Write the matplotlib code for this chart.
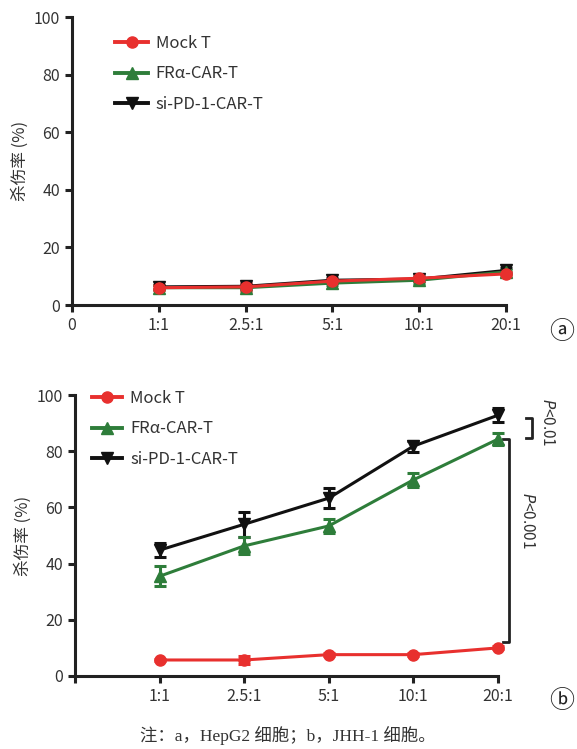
import numpy as np
import matplotlib.pyplot as plt
from matplotlib.lines import Line2D

plt.rcParams['font.family'] = ['Noto Sans CJK SC', 'DejaVu Sans']

# data
ratios = ["1:1", "2.5:1", "5:1", "10:1", "20:1"]
series = ["Mock T", "FRα-CAR-T", "si-PD-1-CAR-T"]

# (a) HepG2
a_mock = [6.0, 6.3, 8.3, 9.3, 10.8]
a_mock_err = [0.8, 1.5, 0.8, 0.8, 0.8]
a_fra = [6.0, 6.0, 7.6, 8.6, 11.5]
a_fra_err = [0.8, 0.8, 0.8, 0.8, 0.8]
a_si = [6.3, 6.5, 8.6, 9.0, 12.0]
a_si_err = [0.8, 0.8, 0.8, 0.8, 1.0]

# (b) JHH-1
b_mock = [5.7, 5.7, 7.6, 7.6, 10.0]
b_mock_err = [0.5, 1.5, 0.5, 0.5, 0.5]
b_fra = [35.5, 46.3, 53.4, 69.8, 84.3]
b_fra_err = [3.5, 3.0, 2.5, 2.5, 2.0]
b_si = [44.8, 54.0, 63.3, 81.8, 92.8]
b_si_err = [2.5, 4.5, 3.5, 2.0, 2.5]

colors = {"Mock T": "#e8302e", "FRα-CAR-T": "#2e7d3a", "si-PD-1-CAR-T": "#111111"}
markers = {"Mock T": "o", "FRα-CAR-T": "^", "si-PD-1-CAR-T": "v"}

W, H = 577, 749
fig = plt.figure(figsize=(W / 100, H / 100), dpi=100)

ax_a = fig.add_axes([72 / W, 1 - 305 / H, (506 - 72) / W, (305 - 17) / H])
ax_b = fig.add_axes([75 / W, 1 - 676 / H, (498 - 75) / W, (676 - 395) / H])

x = np.arange(1, len(ratios) + 1)


def draw(ax, data, order):
    for name in order:
        y, err = data[name]
        ax.errorbar(x, y, yerr=err, color=colors[name], marker=markers[name],
                    markersize=8, linewidth=2.2, elinewidth=2.2, capsize=4,
                    capthick=2.2, clip_on=False)
    ax.set_xlim(0, 5)
    ax.set_ylim(0, 100)
    ax.set_yticks([0, 20, 40, 60, 80, 100])
    for s in ["top", "right"]:
        ax.spines[s].set_visible(False)
    for s in ["left", "bottom"]:
        ax.spines[s].set_linewidth(2.2)
        ax.spines[s].set_color("#222222")
    ax.tick_params(width=2.2, length=5, color="#222222", labelsize=11.5,
                   labelcolor="#333333")
    ax.set_ylabel("杀伤率 (%)", fontsize=12, color="#333333", labelpad=4)


data_a = {"Mock T": (a_mock, a_mock_err), "FRα-CAR-T": (a_fra, a_fra_err),
          "si-PD-1-CAR-T": (a_si, a_si_err)}
data_b = {"Mock T": (b_mock, b_mock_err), "FRα-CAR-T": (b_fra, b_fra_err),
          "si-PD-1-CAR-T": (b_si, b_si_err)}

draw(ax_a, data_a, ["si-PD-1-CAR-T", "FRα-CAR-T", "Mock T"])
draw(ax_b, data_b, ["si-PD-1-CAR-T", "FRα-CAR-T", "Mock T"])

ax_a.set_xticks(np.arange(0, 6))
ax_a.set_xticklabels(["0"] + ratios)
ax_b.set_xticks(np.arange(0, 6))
ax_b.set_xticklabels([""] + ratios)

# legends
handles = [Line2D([], [], color=colors[n], marker=markers[n], markersize=8,
                  linewidth=2.8) for n in series]
fig.legend(handles, series, loc="upper left", bbox_to_anchor=(115 / W, 1 - 35 / H),
           frameon=False, fontsize=12, borderpad=0, borderaxespad=0,
           handlelength=2.0, labelspacing=0.8, handletextpad=0.45,
           labelcolor="#333333")
fig.legend(handles, series, loc="upper left", bbox_to_anchor=(92 / W, 1 - 390 / H),
           frameon=False, fontsize=12, borderpad=0, borderaxespad=0,
           handlelength=1.8, labelspacing=0.8, handletextpad=0.5,
           labelcolor="#333333")


# significance brackets in (b)
def bracket(ax, xpos, y0, y1, text, tx, ty):
    ax.plot([xpos - 0.07, xpos, xpos, xpos - 0.07], [y0, y0, y1, y1],
            color="#222222", linewidth=2.0, clip_on=False)
    ax.text(tx, ty, text, rotation=-90, ha="center", va="center",
            fontsize=11, color="#333333", clip_on=False)


bracket(ax_b, 5.40, 84.7, 91.8, r"$P$<0.01", 5.59, 90.4)
bracket(ax_b, 5.13, 12.1, 84.5, r"$P$<0.001", 5.35, 55.5)

# panel labels
for yy, lab in [(332, "ⓐ"), (701, "ⓑ")]:
    fig.text(562 / W, 1 - yy / H, lab, fontsize=18, ha="center", va="center",
             color="#222222", family=["Noto Sans CJK SC", "DejaVu Sans"])

fig.text(288 / W, 1 - 736 / H, "注：a，HepG2 细胞；b，JHH-1 细胞。", fontsize=12.5,
         ha="center", va="center", color="#333333",
         family=["Liberation Serif", "Noto Sans CJK SC"])

fig.savefig("out.png", dpi=100)
